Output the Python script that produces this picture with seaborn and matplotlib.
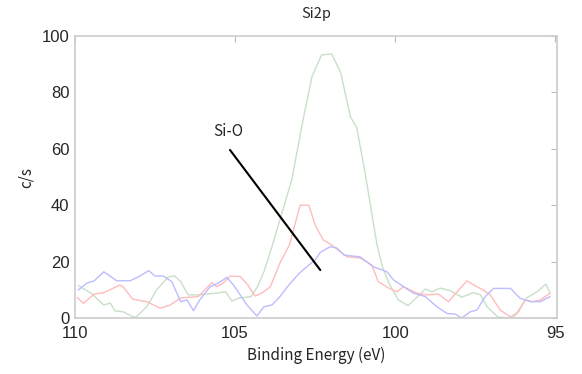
import matplotlib
matplotlib.use("Agg")
import matplotlib.pyplot as plt
import seaborn as sns
import pandas as pd

green_x = [109.9, 109.5, 109.1, 108.9, 108.75, 108.5, 108.2, 108.1, 107.76, 107.45, 107.1, 106.9, 106.7, 106.47,
           106.15, 105.6, 105.3, 105.1, 104.9, 104.5, 104.3, 104.1, 103.85, 103.23, 102.9, 102.6, 102.3, 101.98,
           101.7, 101.4, 101.2, 100.94, 100.57, 100.4, 100.2, 99.9, 99.6, 99.3, 99.06, 98.85, 98.6, 98.28, 97.92,
           97.56, 97.34, 97.13, 96.8, 96.47, 96.2, 95.9, 95.57, 95.3, 95.16]
green_y = [11.5, 8.8, 4.6, 5.3, 2.5, 2.2, 0.5, 0.3, 4.0, 10.0, 14.5, 15.0, 12.9, 8.2,
           8.2, 8.8, 9.3, 6.0, 7.0, 7.6, 11.1, 16.4, 25.3, 49.0, 69.0, 85.6, 93.3, 93.6,
           86.9, 71.4, 67.4, 51.4, 26.0, 18.2, 12.4, 6.4, 4.4, 7.6, 10.3, 9.3, 10.6, 9.7, 7.4,
           9.0, 8.2, 4.0, 0.4, 0.0, 1.8, 7.1, 9.3, 12.0, 8.8]

red_x = [109.93, 109.74, 109.4, 109.1, 108.6, 108.5, 108.2, 107.76, 107.34, 107.03, 106.7, 106.5, 106.15,
         105.73, 105.57, 105.37, 105.15, 104.84, 104.6, 104.38, 104.17, 103.9, 103.6, 103.3, 102.97, 102.7,
         102.5, 102.25, 102.0, 101.78, 101.5, 101.1, 100.73, 100.53, 100.2, 99.95, 99.74, 99.32, 99.0, 98.65,
         98.34, 97.76, 97.45, 97.25, 97.03, 96.72, 96.35, 96.15, 95.94, 95.7, 95.47, 95.16]
red_y = [7.3, 5.2, 8.5, 9.0, 11.7, 11.1, 6.7, 5.8, 3.5, 4.6, 7.1, 7.3, 7.6,
         12.5, 11.1, 12.4, 14.9, 14.7, 11.7, 7.8, 8.8, 11.1, 19.5, 26.0, 40.0, 40.0,
         33.0, 27.7, 26.0, 24.1, 21.7, 21.3, 18.8, 12.9, 10.6, 9.3, 11.1, 8.8, 8.2, 8.5,
         5.8, 13.2, 11.1, 9.9, 8.2, 2.8, 0.0, 2.2, 6.4, 5.8, 6.4, 8.8]

blue_x = [109.9, 109.63, 109.4, 109.1, 108.7, 108.28, 107.97, 107.7, 107.5, 107.24, 106.98, 106.7, 106.5,
          106.3, 106.1, 105.78, 105.52, 105.26, 105.05, 104.63, 104.32, 104.1, 103.85, 103.6, 103.28, 103.0,
          102.76, 102.5, 102.34, 102.03, 101.82, 101.6, 101.1, 100.69, 100.26, 100.05, 99.74, 99.43, 99.06,
          98.7, 98.38, 98.13, 97.92, 97.66, 97.45, 97.19, 96.93, 96.4, 96.1, 95.78, 95.47, 95.16]
blue_y = [9.9, 12.4, 13.2, 16.4, 13.2, 13.2, 14.9, 16.8, 14.9, 14.9, 12.9, 5.8, 6.4,
          2.6, 6.5, 11.1, 12.4, 14.4, 11.7, 4.6, 0.7, 4.0, 4.6, 7.6, 12.3, 15.8,
          18.2, 20.6, 23.3, 25.3, 24.8, 22.3, 21.7, 18.2, 16.4, 13.5, 11.1, 8.8, 7.6,
          4.0, 1.6, 1.4, 0.0, 2.2, 2.8, 7.6, 10.5, 10.5, 7.0, 5.8, 5.8, 7.6]

xticks = [110, 105, 100, 95]
yticks = [0, 20, 40, 60, 80, 100]

annot_text = "Si-O"
annot_text_pos = (105.2, 66)
annot_line_start = (105.16, 59.6)
annot_line_end = (102.34, 17)

sns.set_style("white")
plt.rcParams['font.family'] = ['Liberation Sans', 'DejaVu Sans']

fig = plt.figure(figsize=(5.82, 3.74), dpi=100)
ax = fig.add_axes([0.1289, 0.1497, 0.828, 0.754])

df_g = pd.DataFrame({"x": green_x, "y": green_y})
df_r = pd.DataFrame({"x": red_x, "y": red_y})
df_b = pd.DataFrame({"x": blue_x, "y": blue_y})
sns.lineplot(data=df_g, x="x", y="y", ax=ax, color="#c8e0c8", lw=1.0, sort=False)
sns.lineplot(data=df_r, x="x", y="y", ax=ax, color="#ffbcbc", lw=1.0, sort=False)
sns.lineplot(data=df_b, x="x", y="y", ax=ax, color="#bcbcff", lw=1.0, sort=False)

ax.set_xlim(110, 94.95)
ax.set_ylim(0, 100)
ax.set_xticks(xticks)
ax.set_yticks(yticks)
ax.set_xticklabels([str(t) for t in xticks], fontsize=12)
ax.set_yticklabels([str(t) for t in yticks], fontsize=12)
ax.tick_params(axis="x", direction="in", length=4, color="#bbbbbb", top=True,
               labeltop=False, pad=6)
ax.tick_params(axis="y", direction="in", length=4, color="#bbbbbb", right=True,
               labelright=False, pad=4)
for s in ax.spines.values():
    s.set_color("#cccccc")
    s.set_linewidth(1.2)

cjk = ['Noto Sans CJK JP', 'DejaVu Sans']
ax.set_xlabel("Binding Energy (eV)", fontsize=11, labelpad=4, family=cjk)
ax.set_ylabel("c/s", fontsize=11, labelpad=5, family=cjk)
ax.set_title("Si2p", fontsize=10.5, pad=13, family=cjk)

ax.text(annot_text_pos[0], annot_text_pos[1], annot_text, fontsize=11,
        ha="center", va="center", family=cjk)
ax.annotate("", xy=annot_line_end, xytext=annot_line_start,
            arrowprops=dict(arrowstyle="-", color="black", lw=1.5, shrinkA=0, shrinkB=0))

fig.savefig("out.png", dpi=100)
